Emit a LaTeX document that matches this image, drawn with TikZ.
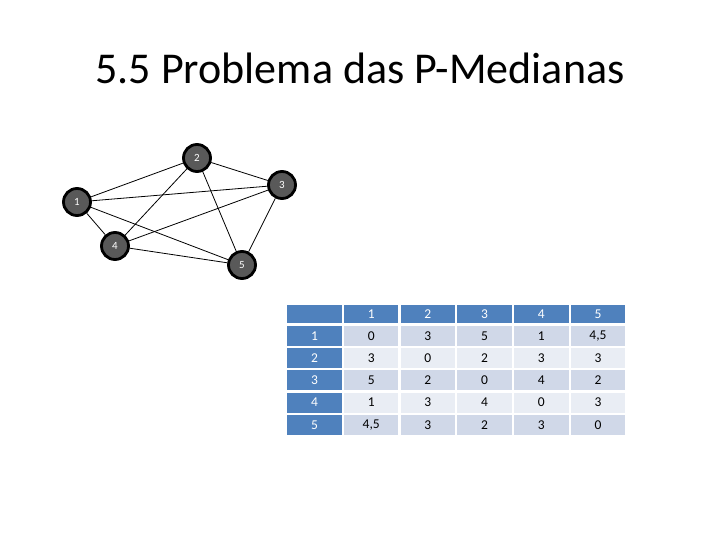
\documentclass[tikz,border=0pt]{standalone}
\usepackage{fontspec}
\setmainfont{Carlito}
\usetikzlibrary{backgrounds}
\definecolor{hdr}{HTML}{4F81BD}
\definecolor{oddr}{HTML}{D0D8E8}
\definecolor{evenr}{HTML}{E9EDF4}
\definecolor{vfill}{HTML}{595959}
\begin{document}
\begin{tikzpicture}[x=1pt,y=-1pt,
  vert/.style={circle,draw=black,line width=2.8pt,fill=vfill,minimum size=27pt,inner sep=0pt,text=white,font=\fontsize{11}{12}\selectfont},
  edge/.style={draw=black,line width=0.8pt},
  cell/.style={anchor=center,inner sep=0pt,minimum width=54.5pt,minimum height=20pt,font=\fontsize{13.5}{14}\selectfont},
  hcell/.style={cell,fill=hdr,text=white},
  ocell/.style={cell,fill=oddr,text=black},
  ecell/.style={cell,fill=evenr,text=black}]
\useasboundingbox (0,0) rectangle (720,540);
\node[font=\fontsize{44}{48}\selectfont] (title) at (360,68) {5.5 Problema das P-Medianas};
% graph
\node[vert] (v1) at (77,202) {1};
\node[vert] (v2) at (197,158) {2};
\node[vert] (v3) at (282,185) {3};
\node[vert] (v4) at (115,246) {4};
\node[vert] (v5) at (242,265) {5};
\begin{scope}[on background layer]
\draw[edge] (v1) -- (v2);
\draw[edge] (v1) -- (v3);
\draw[edge] (v1) -- (v4);
\draw[edge] (v1) -- (v5);
\draw[edge] (v2) -- (v3);
\draw[edge] (v2) -- (v4);
\draw[edge] (v2) -- (v5);
\draw[edge] (v3) -- (v4);
\draw[edge] (v3) -- (v5);
\draw[edge] (v4) -- (v5);
\end{scope}
% table
\node[hcell,minimum height=17.5pt] (h0) at (314.5,313.8) {};
\node[hcell,minimum height=17.5pt] (h1) at (371.2,313.8) {1};
\node[hcell,minimum height=17.5pt] (h2) at (427.9,313.8) {2};
\node[hcell,minimum height=17.5pt] (h3) at (484.6,313.8) {3};
\node[hcell,minimum height=17.5pt] (h4) at (541.3,313.8) {4};
\node[hcell,minimum height=17.5pt] (h5) at (598.0,313.8) {5};
% row 1
\node[hcell] (r1c0) at (314.5,336) {1};
\node[ocell] (r1c1) at (371.2,336) {0};
\node[ocell] (r1c2) at (427.9,336) {3};
\node[ocell] (r1c3) at (484.6,336) {5};
\node[ocell] (r1c4) at (541.3,336) {1};
\node[ocell] (r1c5) at (598.0,336) {4,5};
% row 2
\node[hcell] (r2c0) at (314.5,358.2) {2};
\node[ecell] (r2c1) at (371.2,358.2) {3};
\node[ecell] (r2c2) at (427.9,358.2) {0};
\node[ecell] (r2c3) at (484.6,358.2) {2};
\node[ecell] (r2c4) at (541.3,358.2) {3};
\node[ecell] (r2c5) at (598.0,358.2) {3};
% row 3
\node[hcell] (r3c0) at (314.5,380.4) {3};
\node[ocell] (r3c1) at (371.2,380.4) {5};
\node[ocell] (r3c2) at (427.9,380.4) {2};
\node[ocell] (r3c3) at (484.6,380.4) {0};
\node[ocell] (r3c4) at (541.3,380.4) {4};
\node[ocell] (r3c5) at (598.0,380.4) {2};
% row 4
\node[hcell] (r4c0) at (314.5,402.6) {4};
\node[ecell] (r4c1) at (371.2,402.6) {1};
\node[ecell] (r4c2) at (427.9,402.6) {3};
\node[ecell] (r4c3) at (484.6,402.6) {4};
\node[ecell] (r4c4) at (541.3,402.6) {0};
\node[ecell] (r4c5) at (598.0,402.6) {3};
% row 5
\node[hcell] (r5c0) at (314.5,424.8) {5};
\node[ocell] (r5c1) at (371.2,424.8) {4,5};
\node[ocell] (r5c2) at (427.9,424.8) {3};
\node[ocell] (r5c3) at (484.6,424.8) {2};
\node[ocell] (r5c4) at (541.3,424.8) {3};
\node[ocell] (r5c5) at (598.0,424.8) {0};
\end{tikzpicture}
\end{document}
